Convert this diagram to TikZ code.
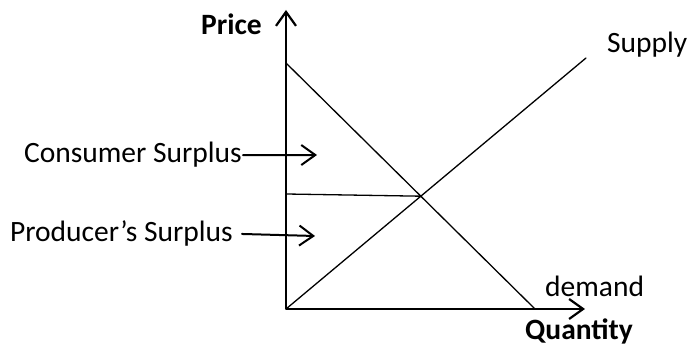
\documentclass[tikz,border=0pt]{standalone}
\usepackage{fontspec}
\setmainfont{Carlito}
\usetikzlibrary{arrows.meta}
\begin{document}
\begin{tikzpicture}[x=1pt, y=1pt, font=\fontsize{29.5}{35}\selectfont, line join=round, line cap=round,
	every node/.style={inner sep=0pt}, >={Straight Barb[length=14pt,width=20pt]}]
	\useasboundingbox (-286,-38) rectangle (402,309);
	\coordinate (O) at (0,0);
	\coordinate (Y) at (0,299);
	\coordinate (X) at (299,0);
	\coordinate (D1) at (0,246);
	\coordinate (D2) at (249,0);
	\coordinate (S2) at (300,251);
	\coordinate (P) at (0,115);
	\coordinate (E) at (intersection of D1--D2 and O--S2);
	\coordinate (C1) at (31,154);
	\coordinate (C2) at (29,73);
	
	\draw[line width=1.3pt] (D1)--(D2) (O)--(S2) (P)--(E);
	\draw[line width=2.2pt, <->] (Y)--(O)--(X);
	
	\node[anchor=base east] (PR) at (-24,274) {\bfseries Price};
	\node[anchor=base west] (SU) at (321,256) {Supply};
	\node[anchor=base east] (CS) at (-44,146) {Consumer Surplus};
	\node[anchor=base east] (PS) at (-53,67) {Producer’s Surplus};
	\node[anchor=base west] (DE) at (259,12) {demand};
	\node[anchor=base west] (QU) at (239,-31) {\bfseries Quantity};
	
	\draw[line width=2pt, ->] ([xshift=1pt]CS.east) -- (C1);
	\draw[line width=2pt, ->] ([xshift=9pt]PS.east) -- (C2);
\end{tikzpicture}
\end{document}
